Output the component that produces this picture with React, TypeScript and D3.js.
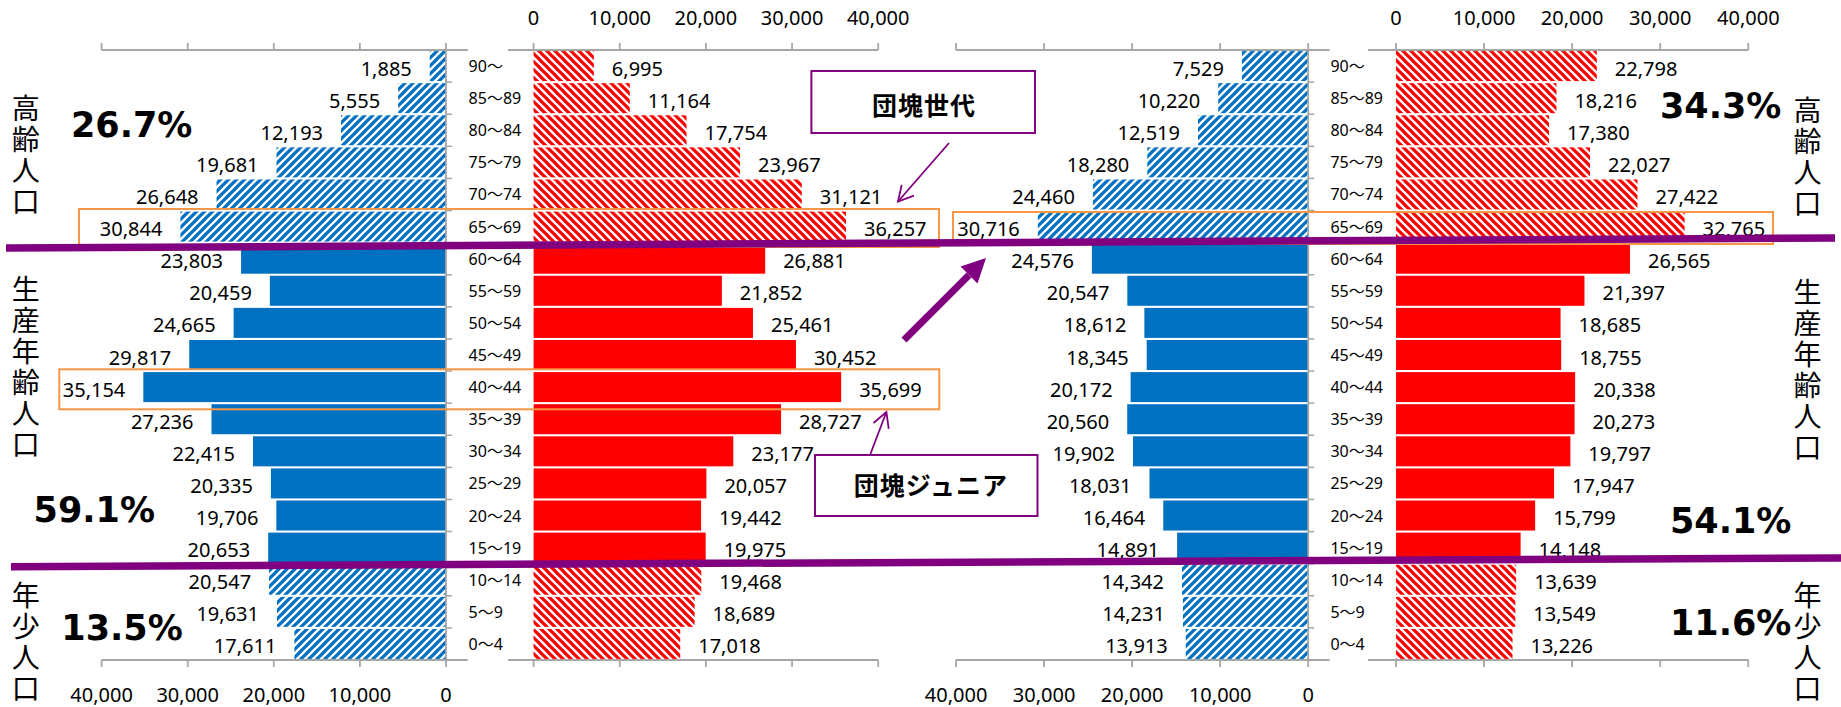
import React from 'react';
import * as d3 from 'd3';

// ---- data ----
const ages = ['90～', '85～89', '80～84', '75～79', '70～74', '65～69', '60～64', '55～59', '50～54', '45～49', '40～44', '35～39', '30～34', '25～29', '20～24', '15～19', '10～14', '5～9', '0～4'];
const maleNow = [1885, 5555, 12193, 19681, 26648, 30844, 23803, 20459, 24665, 29817, 35154, 27236, 22415, 20335, 19706, 20653, 20547, 19631, 17611];
const femaleNow = [6995, 11164, 17754, 23967, 31121, 36257, 26881, 21852, 25461, 30452, 35699, 28727, 23177, 20057, 19442, 19975, 19468, 18689, 17018];
const maleFuture = [7529, 10220, 12519, 18280, 24460, 30716, 24576, 20547, 18612, 18345, 20172, 20560, 19902, 18031, 16464, 14891, 14342, 14231, 13913];
const femaleFuture = [22798, 18216, 17380, 22027, 27422, 32765, 26565, 21397, 18685, 18755, 20338, 20273, 19797, 17947, 15799, 14148, 13639, 13549, 13226];
const axisTicks = [0, 10000, 20000, 30000, 40000];
const elderlyAges = ['90～', '85～89', '80～84', '75～79', '70～74', '65～69'];
const childAges = ['10～14', '5～9', '0～4'];
const groupNames = ['高齢人口', '生産年齢人口', '年少人口'];
const shareNow = ['26.7%', '59.1%', '13.5%'];
const shareFuture = ['34.3%', '54.1%', '11.6%'];
const calloutLabels = ['団塊世代', '団塊ジュニア'];

const NUM_FONT = "'Noto Sans', 'Noto Sans CJK JP', sans-serif";
const JP_FONT = "'Noto Sans CJK JP', sans-serif";
const PCT_FONT = "'DejaVu Sans', sans-serif";
const AXIS = '#A6A6A6';
const PURPLE = '#800080';
const ORANGE = '#F79646';
const fmt = d3.format(',');

export default function App() {
  const W = 1841, H = 707;
  const yTop = 50, yBottom = 660;
  const y = d3.scaleBand<string>().domain(ages).range([yTop, yBottom]).paddingInner(0.065).paddingOuter(0.0325);
  const bw = y.bandwidth();
  const step = y.step();
  const isHatched = (a: string) => elderlyAges.includes(a) || childAges.includes(a);

  const panels = [
    { key: 'mN', values: maleNow, male: true, scale: d3.scaleLinear().domain([0, 40000]).range([446, 101.6]), ext: [101.6, 467.8], ageX: 468.6, color: '#0070C0', hatch: 'url(#hatchBlue)' },
    { key: 'fN', values: femaleNow, male: false, scale: d3.scaleLinear().domain([0, 40000]).range([533.6, 878.2]), ext: [507.9, 878.2], ageX: 0, color: '#FF0000', hatch: 'url(#hatchRed)' },
    { key: 'mF', values: maleFuture, male: true, scale: d3.scaleLinear().domain([0, 40000]).range([1308.2, 956.1]), ext: [956.1, 1329.6], ageX: 1330.4, color: '#0070C0', hatch: 'url(#hatchBlue)' },
    { key: 'fF', values: femaleFuture, male: false, scale: d3.scaleLinear().domain([0, 40000]).range([1396, 1748.3]), ext: [1367.9, 1748.3], ageX: 0, color: '#FF0000', hatch: 'url(#hatchRed)' },
  ];

  const boundaries = d3.range(ages.length + 1).map(i => yTop + i * step);

  // vertical group titles (top of first glyph)
  const leftTitleX = 25.7, rightTitleX = 1807.5;
  const titleStarts = [[94, 275, 581], [96, 278.5, 581]];

  const pctPos = [
    [[71, 136.7], [33.6, 521.7], [61.3, 640]],
    [[1660, 118.3], [1670, 532.7], [1670, 635]],
  ];

  const arrowHead = (x1: number, y1: number, x2: number, y2: number, len: number, ang: number) => {
    const a = Math.atan2(y1 - y2, x1 - x2);
    const p1 = [x2 + len * Math.cos(a + ang), y2 + len * Math.sin(a + ang)];
    const p2 = [x2 + len * Math.cos(a - ang), y2 + len * Math.sin(a - ang)];
    return { p1, p2 };
  };
  const thin1 = { x1: 949, y1: 143, x2: 898, y2: 201.5 };
  const thin2 = { x1: 870.4, y1: 454, x2: 886.4, y2: 412 };
  const thick = { x1: 904, y1: 340, x2: 986, y2: 258 };
  const h1 = arrowHead(thin1.x1, thin1.y1, thin1.x2, thin1.y2, 17, 0.5);
  const h2 = arrowHead(thin2.x1, thin2.y1, thin2.x2, thin2.y2, 17, 0.5);
  const thickAng = Math.atan2(thick.y2 - thick.y1, thick.x2 - thick.x1);
  const headLen = 24, headHalf = 12;
  const baseX = thick.x2 - headLen * Math.cos(thickAng), baseY = thick.y2 - headLen * Math.sin(thickAng);
  const nx = -Math.sin(thickAng), ny = Math.cos(thickAng);

  return (
    <svg width={W} height={H} style={{ position: 'absolute', left: 0, top: 0, display: 'block', background: '#fff' }}>
      <defs>
        <pattern id="hatchBlue" patternUnits="userSpaceOnUse" width="8" height="8">
          <rect width="8" height="8" fill="#fff" />
          <path d="M-2,2 L2,-2 M0,8 L8,0 M6,10 L10,6" stroke="#0070C0" strokeWidth="3.3" />
        </pattern>
        <pattern id="hatchRed" patternUnits="userSpaceOnUse" width="8" height="8">
          <rect width="8" height="8" fill="#fff" />
          <path d="M-2,6 L2,10 M0,0 L8,8 M6,-2 L10,2" stroke="#FF0000" strokeWidth="3.3" />
        </pattern>
      </defs>
      <rect width={W} height={H} fill="#fff" />

      {panels.map(p => {
        const x0 = p.scale(0);
        return (
          <g key={p.key}>
            {ages.map((a, i) => {
              const v = p.values[i];
              const xv = p.scale(v);
              const yy = y(a)!;
              return (
                <rect key={a} x={Math.min(x0, xv)} y={yy} width={Math.abs(xv - x0)} height={bw}
                  fill={isHatched(a) ? p.hatch : p.color} />
              );
            })}
            {ages.map((a, i) => {
              const v = p.values[i];
              const xv = p.scale(v);
              const cy = y(a)! + bw / 2;
              return (
                <text key={'l' + a} x={p.male ? xv - 18 : xv + 18} y={cy + 9.5}
                  textAnchor={p.male ? 'end' : 'start'} fontFamily={NUM_FONT} fontSize={20} fill="#000">
                  {fmt(v)}
                </text>
              );
            })}
            {/* top & bottom axis lines */}
            <line x1={p.ext[0]} x2={p.ext[1]} y1={yTop} y2={yTop} stroke={AXIS} strokeWidth={1.8} />
            <line x1={p.ext[0]} x2={p.ext[1]} y1={yBottom} y2={yBottom} stroke={AXIS} strokeWidth={1.8} />
            {axisTicks.map(t => (
              <g key={'t' + t}>
                <line x1={p.scale(t)} x2={p.scale(t)} y1={yTop} y2={yTop - 7} stroke={AXIS} strokeWidth={1.8} />
                <line x1={p.scale(t)} x2={p.scale(t)} y1={yBottom} y2={yBottom + 7} stroke={AXIS} strokeWidth={1.8} />
                {p.male ? (
                  <text x={p.scale(t)} y={701.7} textAnchor="middle" fontFamily={NUM_FONT} fontSize={20} fill="#000">{fmt(t)}</text>
                ) : (
                  <text x={p.scale(t)} y={25} textAnchor="middle" fontFamily={NUM_FONT} fontSize={20} fill="#000">{fmt(t)}</text>
                )}
              </g>
            ))}
            {p.male && (
              <g>
                <line x1={x0} x2={x0} y1={yTop} y2={yBottom} stroke={AXIS} strokeWidth={1.8} />
                {boundaries.map((b, i) => (
                  <line key={'b' + i} x1={x0} x2={x0 + 6} y1={b} y2={b} stroke={AXIS} strokeWidth={1.5} />
                ))}
                {ages.map(a => (
                  <text key={'a' + a} x={p.ageX} y={y(a)! + bw / 2 + 6} fontFamily={NUM_FONT} fontSize={16} fill="#000">{a}</text>
                ))}
              </g>
            )}
          </g>
        );
      })}

      {/* group titles (vertical) */}
      {[leftTitleX, rightTitleX].map((tx, side) => (
        <g key={'side' + side}>
          {groupNames.map((g, gi) => (
            <text key={g} x={tx} y={titleStarts[side][gi]} style={{ writingMode: 'vertical-rl' }}
              letterSpacing={3} fontFamily={JP_FONT} fontSize={28} fill="#000">{g}</text>
          ))}
        </g>
      ))}

      {/* percentages */}
      {[shareNow, shareFuture].map((arr, side) => arr.map((s, i) => (
        <text key={'p' + side + i} x={pctPos[side][i][0]} y={pctPos[side][i][1]} fontFamily={PCT_FONT}
          fontWeight="bold" fontSize={35} fill="#000">{s}</text>
      )))}

      {/* orange highlight boxes */}
      <rect x={79} y={209} width={860} height={38} fill="none" stroke={ORANGE} strokeWidth={2} />
      <rect x={953} y={212} width={820} height={32} fill="none" stroke={ORANGE} strokeWidth={2} />
      <rect x={59.3} y={369.3} width={880} height={40} fill="none" stroke={ORANGE} strokeWidth={2} />

      {/* callouts */}
      <rect x={811.4} y={71} width={223.6} height={62} fill="#fff" stroke={PURPLE} strokeWidth={2} />
      <text x={924} y={104} textAnchor="middle" dominantBaseline="central" fontFamily={JP_FONT} fontWeight="bold"
        fontSize={25} letterSpacing={1} fill="#000">{calloutLabels[0]}</text>
      <rect x={815} y={455} width={222.5} height={61} fill="#fff" stroke={PURPLE} strokeWidth={2} />
      <text x={931} y={484} textAnchor="middle" dominantBaseline="central" fontFamily={JP_FONT} fontWeight="bold"
        fontSize={25} letterSpacing={1} fill="#000">{calloutLabels[1]}</text>

      {/* thin arrows */}
      <g stroke={PURPLE} strokeWidth={1.8} fill="none">
        <line x1={thin1.x1} y1={thin1.y1} x2={thin1.x2} y2={thin1.y2} />
        <polyline points={`${h1.p1[0]},${h1.p1[1]} ${thin1.x2},${thin1.y2} ${h1.p2[0]},${h1.p2[1]}`} />
        <line x1={thin2.x1} y1={thin2.y1} x2={thin2.x2} y2={thin2.y2} />
        <polyline points={`${h2.p1[0]},${h2.p1[1]} ${thin2.x2},${thin2.y2} ${h2.p2[0]},${h2.p2[1]}`} />
      </g>

      {/* thick arrow */}
      <line x1={thick.x1} y1={thick.y1} x2={baseX} y2={baseY} stroke={PURPLE} strokeWidth={7} />
      <polygon points={`${thick.x2},${thick.y2} ${baseX + nx * headHalf},${baseY + ny * headHalf} ${baseX - nx * headHalf},${baseY - ny * headHalf}`} fill={PURPLE} />

      {/* purple divider lines */}
      <line x1={6} y1={248} x2={1835} y2={238} stroke={PURPLE} strokeWidth={7.5} />
      <line x1={11} y1={566.7} x2={1841} y2={558} stroke={PURPLE} strokeWidth={7.5} />
    </svg>
  );
}
